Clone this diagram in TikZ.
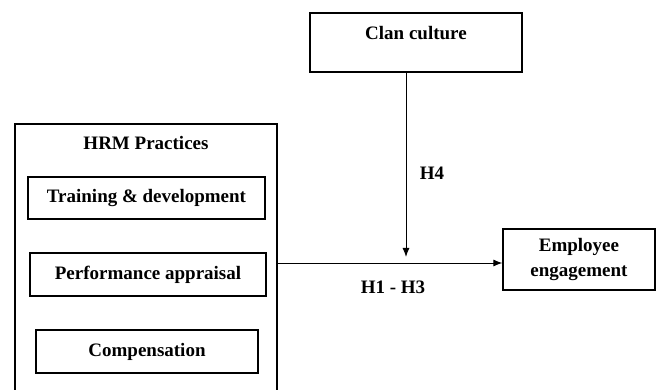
\documentclass[tikz,border=0pt]{standalone}
\usepackage{fontspec}
\setmainfont{Liberation Serif}
\usetikzlibrary{arrows.meta}

\begin{document}
\begin{tikzpicture}[x=1pt,y=-1pt,
  box/.style={draw,line width=1.2pt,inner sep=0pt,font=\bfseries\fontsize{19}{25}\selectfont},
  lbl/.style={font=\bfseries\fontsize{19}{25}\selectfont},
  arr/.style={line width=1pt,-{Latex[length=9pt,width=7pt]}}]
\useasboundingbox (0,0) rectangle (656,390);
\clip (0,0) rectangle (656,390);
\node[box,minimum width=262pt,minimum height=270pt] (hrm) at (146,259) {};
\node[lbl] (hrmtext) at (146,143) {HRM Practices};
\node[box,minimum width=237pt,minimum height=42pt] (train) at (146.5,198) {Training \& development};
\node[box,minimum width=236pt,minimum height=43pt] (perf) at (148,274.5) {Performance appraisal};
\node[box,minimum width=222pt,minimum height=43pt] (comp) at (147,351.5) {Compensation};
\node[box,minimum width=212pt,minimum height=59pt] (clan) at (416,42.5) {};
\node[lbl] (clantext) at (416,33) {Clan culture};
\node[box,minimum width=152pt,minimum height=61pt,align=center] (emp) at (579,259.5) {Employee\\engagement};
\coordinate (j) at (406,263);
\draw[arr] (hrm.east |- j) -- (j -| emp.west);
\draw[arr,shorten >=6pt] (clan.south -| j) -- (j);
\node[lbl] (h4) at (432,173) {H4};
\node[lbl] (h13) at (393,287) {H1 - H3};
\end{tikzpicture}
\end{document}
